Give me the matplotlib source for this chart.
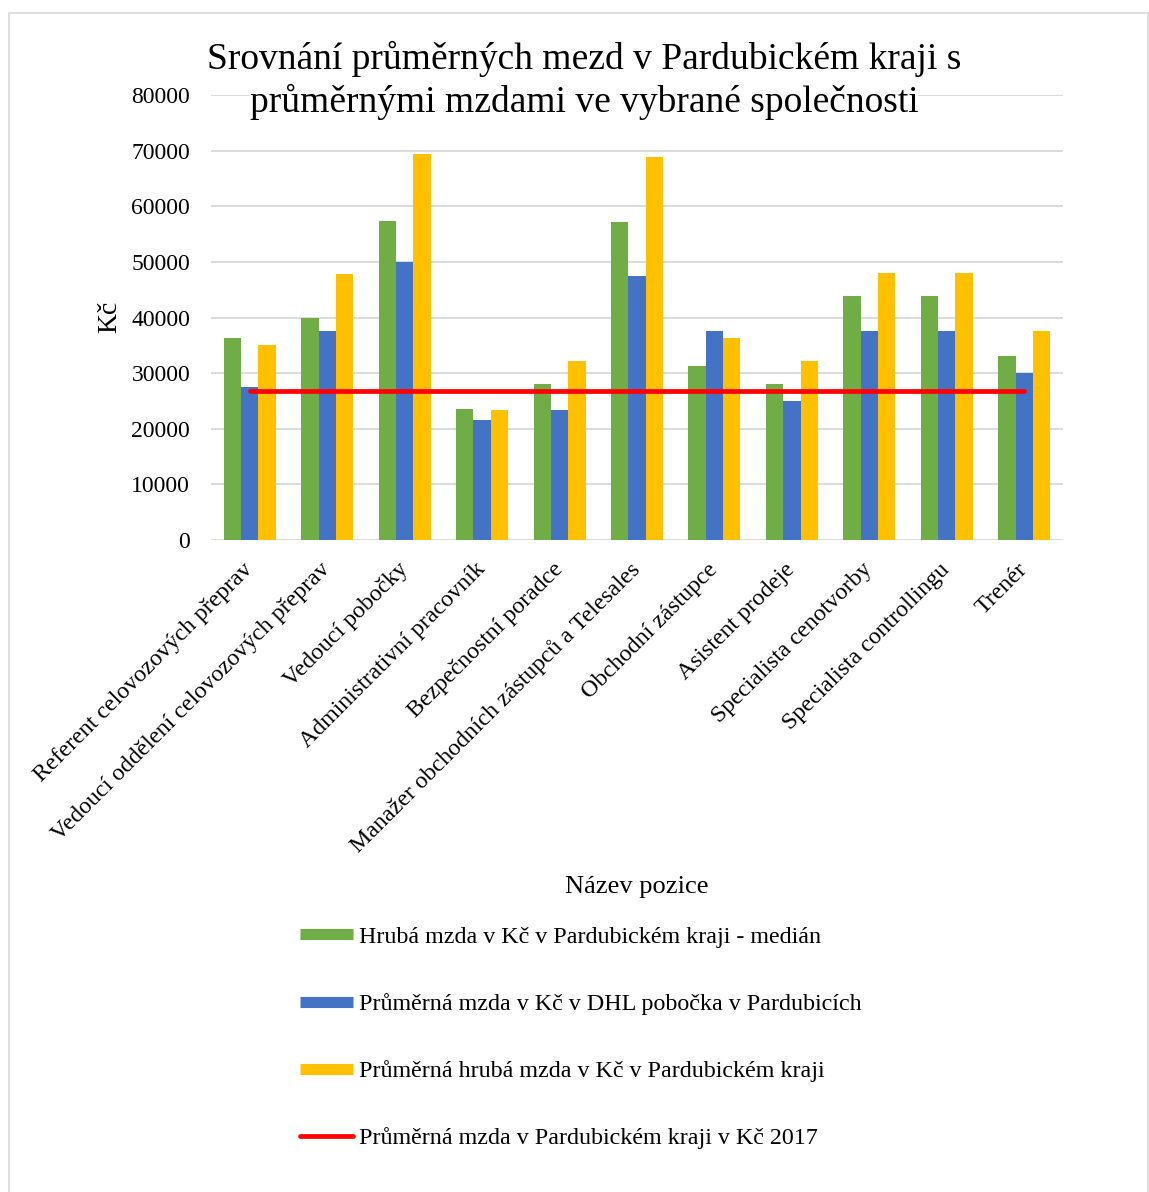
import matplotlib
matplotlib.use("Agg")
import matplotlib.pyplot as plt
import numpy as np
from matplotlib.lines import Line2D
from matplotlib.patches import Rectangle

# ── Data ──────────────────────────────────────────────────────────────────────

pozice = [
    "Referent celovozových přeprav",
    "Vedoucí oddělení celovozových přeprav",
    "Vedoucí pobočky",
    "Administrativní pracovník",
    "Bezpečnostní poradce",
    "Manažer obchodních zástupců a Telesales",
    "Obchodní zástupce",
    "Asistent prodeje",
    "Specialista cenotvorby",
    "Specialista controllingu",
    "Trenér",
]

median_kraj = [36400, 40000, 57300, 23600, 28000, 57200, 31300, 28000, 43900, 43900, 33100]
prumer_dhl = [27500, 37500, 50000, 21500, 23400, 47500, 37500, 25000, 37500, 37500, 30000]
prumer_kraj = [35000, 47900, 69400, 23400, 32200, 68900, 36400, 32200, 48000, 48000, 37500]
prumer_kraj_2017 = [26800, 26800, 26800, 26800, 26800, 26800, 26800, 26800, 26800, 26800, 26800]

labels = [
    "Hrubá mzda v Kč v Pardubickém kraji - medián",
    "Průměrná mzda v Kč v DHL pobočka v Pardubicích",
    "Průměrná hrubá mzda v Kč v Pardubickém kraji",
    "Průměrná mzda v Pardubickém kraji v Kč 2017",
]

yticks = [0, 10000, 20000, 30000, 40000, 50000, 60000, 70000, 80000]

# ── Style ─────────────────────────────────────────────────────────────────────

GREEN = "#70ad47"
BLUE = "#4472c4"
YELLOW = "#ffc000"
RED = "#ff0000"
GRID = "#d9d9d9"

plt.rcParams["font.family"] = ["Liberation Serif", "DejaVu Serif"]

W, H = 1149, 1192
fig = plt.figure(figsize=(W / 100, H / 100), dpi=100)

# chart frame
fig.add_artist(Rectangle((8.5 / W, -0.05), (1148 - 8.5) / W, 1.05 - 13.5 / H,
                         transform=fig.transFigure, facecolor="none",
                         edgecolor=GRID, linewidth=1.2))

ax = fig.add_axes([211 / W, 1 - 540 / H, (1063 - 211) / W, (540 - 95) / H])

x = np.arange(len(pozice))
bw = 0.224

ax.bar(x - bw, median_kraj, bw, color=GREEN, zorder=2)
ax.bar(x, prumer_dhl, bw, color=BLUE, zorder=2)
ax.bar(x + bw, prumer_kraj, bw, color=YELLOW, zorder=2)
ax.plot(x, prumer_kraj_2017, color=RED, linewidth=3.4,
        solid_capstyle="round", zorder=3)

ax.set_xlim(-0.5, len(pozice) - 0.5)
ax.set_ylim(0, 80000)
ax.set_yticks(yticks)
ax.set_yticklabels([str(v) for v in yticks], fontsize=17)
ax.set_xticks(x)
ax.set_xticklabels(pozice, fontsize=17.2, rotation=45, ha="right",
                   va="center", rotation_mode="anchor")
ax.tick_params(axis="both", length=0)
ax.tick_params(axis="y", pad=15)
ax.tick_params(axis="x", pad=19)

ax.grid(True, axis="y", color=GRID, linewidth=1.3, zorder=0)
ax.set_axisbelow(True)
for s in ax.spines.values():
    s.set_visible(False)

# axis titles
fig.text(110 / W, 1 - 317 / H, "Kč", rotation=90, fontsize=20,
         ha="center", va="center")
fig.text(637 / W, 1 - 887 / H, "Název pozice", fontsize=19,
         ha="center", va="center")

# chart title, each line on its own white box so the grid stays behind it
title_box = dict(facecolor="white", edgecolor="none", pad=0)
fig.text(584 / W, 1 - 59 / H, "Srovnání průměrných mezd v Pardubickém kraji s",
         fontsize=27, ha="center", va="center", bbox=title_box, zorder=5)
fig.text(584 / W, 1 - 102 / H, "průměrnými mzdami ve vybrané společnosti",
         fontsize=27, ha="center", va="center", bbox=title_box, zorder=5)

# legend
handles = [
    Line2D([], [], color=GREEN, linewidth=8, solid_capstyle="butt"),
    Line2D([], [], color=BLUE, linewidth=8, solid_capstyle="butt"),
    Line2D([], [], color=YELLOW, linewidth=8, solid_capstyle="butt"),
    Line2D([], [], color=RED, linewidth=3.4, solid_capstyle="round"),
]
fig.legend(handles, labels, loc="upper left",
           bbox_to_anchor=(300 / W, 1 - 926 / H), frameon=False,
           fontsize=17.3, handlelength=2.2, handletextpad=0.25,
           labelspacing=1.88, borderpad=0, borderaxespad=0)

fig.savefig("out.png", dpi=100)
